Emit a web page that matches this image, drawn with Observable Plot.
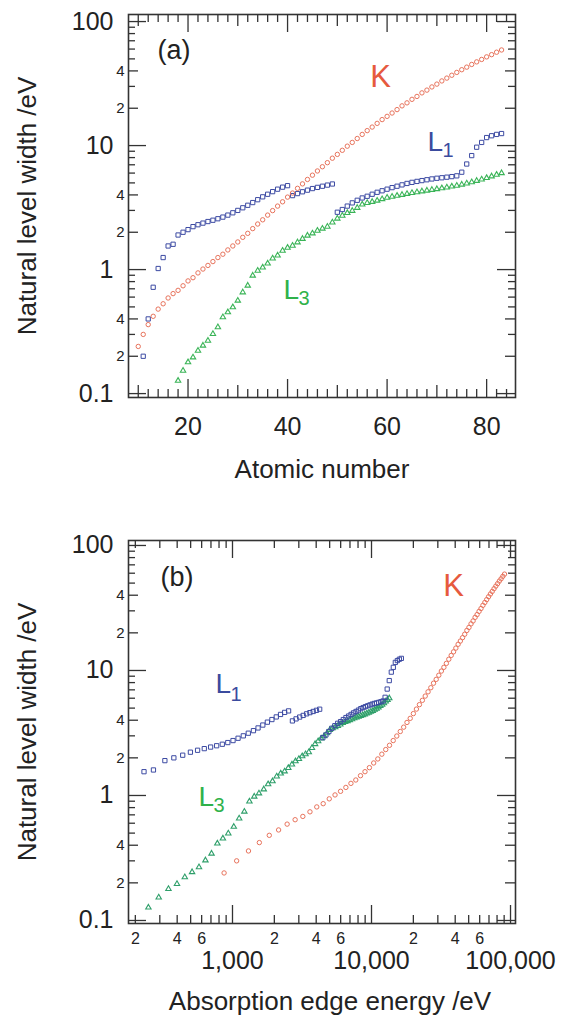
<!DOCTYPE html>
<html>
<head>
<meta charset="utf-8">
<script src="https://cdn.jsdelivr.net/npm/d3@7"></script>
<script src="https://cdn.jsdelivr.net/npm/@observablehq/plot@0.6"></script>
<style>
  html, body { margin: 0; padding: 0; background: #fff; }
  #chart svg { display: block; }
</style>
</head>
<body>
<div id="chart"></div>
<script>
// ---- K level: atomic number, natural width (eV), absorption edge energy (eV)
const zK = [10,11,12,13,14,15,16,17,18,19,20,21,22,23,24,25,26,27,28,29,30,31,32,33,34,35,36,37,38,39,40,41,42,43,44,45,46,47,48,49,50,51,52,53,54,55,56,57,58,59,60,61,62,63,64,65,66,67,68,69,70,71,72,73,74,75,76,77,78,79,80,81,82,83];
const widthK = [0.24,0.30,0.36,0.42,0.48,0.53,0.59,0.64,0.68,0.74,
  0.81,0.86,0.94,1.01,1.08,1.16,1.25,1.33,1.44,1.55,
  1.67,1.82,1.96,2.14,2.33,2.52,2.75,2.99,3.25,3.52,
  3.84,4.14,4.52,4.91,5.33,5.77,6.24,6.75,7.28,7.91,
  8.49,9.16,9.89,10.6,11.4,12.3,13.2,14.1,15.1,16.2,
  17.2,18.3,19.5,20.9,22.1,23.6,24.9,26.6,28.0,29.7,
  31.3,33.2,35.0,36.9,38.9,40.9,42.9,45.1,47.3,49.5,
  51.9,54.1,56.6,59.0];
const edgeK = [870,1071,1303,1560,1839,2146,2472,2822,3206,3608,
  4038,4492,4966,5465,5989,6539,7112,7709,8333,8979,
  9659,10367,11103,11867,12658,13474,14326,15200,16105,17038,
  17998,18986,20000,21044,22117,23220,24350,25514,26711,27940,
  29200,30491,31814,33169,34561,35985,37441,38925,40443,41991,
  43569,45184,46834,48519,50239,51996,53789,55618,57486,59390,
  61332,63314,65351,67416,69525,71676,73871,76111,78395,80725,
  83102,85530,88005,90526];

// ---- L1 level
const zL1 = [11,12,13,14,15,16,17,18,19,20,21,22,23,24,25,26,27,28,29,30,31,32,33,34,35,36,37,38,39,40,41,42,43,44,45,46,47,48,49,50,51,52,53,54,55,56,57,58,59,60,61,62,63,64,65,66,67,68,69,70,71,72,73,74,75,76,77,78,79,80,81,82,83];
const widthL1 = [0.20,0.40,0.72,1.02,1.25,1.55,1.60,1.90,2.00,
  2.10,2.22,2.30,2.37,2.44,2.50,2.57,2.65,2.75,2.87,
  3.00,3.15,3.30,3.47,3.66,3.86,4.05,4.25,4.45,4.62,
  4.75,3.95,4.10,4.24,4.37,4.50,4.60,4.70,4.80,4.90,
  2.90,3.05,3.25,3.45,3.62,3.78,3.90,4.05,4.20,4.32,
  4.45,4.58,4.70,4.82,4.95,5.05,5.14,5.22,5.30,5.38,
  5.45,5.50,5.56,5.62,5.70,6.10,7.10,8.30,9.70,10.6,
  11.6,12.0,12.3,12.5];
const edgeL1 = [63.5,88.7,117.8,149.7,189,230.9,270,326.3,378.6,
  438.4,498,560.9,626.7,696,769.1,844.6,925.1,1008.6,1096.7,
  1196.2,1299,1414.6,1527,1652,1782,1921,2065,2216,2373,
  2532,2698,2866,3043,3224,3412,3604,3806,4018,4238,
  4465,4698,4939,5188,5453,5714,5989,6266,6549,6835,
  7126,7428,7737,8052,8376,8708,9046,9394,9751,10116,
  10486,10870,11271,11682,12100,12527,12968,13419,13880,14353,
  14839,15347,15861,16388];

// ---- L3 level
const zL3 = [18,19,20,21,22,23,24,25,26,27,28,29,30,31,32,33,34,35,36,37,38,39,40,41,42,43,44,45,46,47,48,49,50,51,52,53,54,55,56,57,58,59,60,61,62,63,64,65,66,67,68,69,70,71,72,73,74,75,76,77,78,79,80,81,82,83];
const widthL3 = [0.127,0.153,
  0.179,0.196,0.222,0.244,0.267,0.303,0.343,0.413,0.453,0.497,
  0.562,0.656,0.743,0.895,0.98,1.04,1.12,1.23,1.30,1.42,
  1.50,1.56,1.66,1.77,1.88,1.96,2.06,2.14,2.22,2.40,
  2.58,2.72,2.86,2.98,3.15,3.35,3.45,3.52,3.60,3.70,
  3.80,3.87,3.94,4.01,4.08,4.15,4.21,4.28,4.34,4.40,
  4.46,4.53,4.60,4.68,4.75,4.85,4.95,5.07,5.20,5.33,
  5.48,5.65,5.82,6.00];
const edgeL3 = [248.4,294.6,
  346.2,398.7,453.8,512.1,574.1,638.7,706.8,778.1,852.7,932.7,
  1021.8,1116.4,1217.0,1323.6,1433.9,1550,1678.4,1804,1940,2080,
  2222.3,2370.5,2520.2,2677,2837.9,3003.8,3173.3,3351.1,3537.5,3729.9,
  3928.8,4132.2,4341.4,4557.1,4782.2,5011.9,5247,5482.7,5723.4,5964.3,
  6207.9,6459,6716.2,6976.9,7242.8,7514,7790.1,8071.1,8357.9,8648,
  8943.6,9244.1,9560.7,9881.1,10206.8,10535.3,10870.9,11215.2,11563.7,11918.7,
  12283.9,12657.5,13035.2,13418.6];

// ---- axis ticks and labels
const yMajor = [0.1, 1, 10, 100];
const yMajorLabels = ["0.1", "1", "10", "100"];
const yMid = [0.2, 0.4, 2, 4, 20, 40];
const yMidLabels = ["2", "4", "2", "4", "2", "4"];
const yMinor = [0.3,0.5,0.6,0.7,0.8,0.9,3,5,6,7,8,9,30,50,60,70,80,90];

const zMajor = [20, 40, 60, 80];
const zMajorLabels = ["20", "40", "60", "80"];
const zMid = [10, 30, 50, 70];
const zMinor = [12,14,16,18,22,24,26,28,32,34,36,38,42,44,46,48,52,54,56,58,62,64,66,68,72,74,76,78,82,84];

const eMajor = [1000, 10000, 100000];
const eMajorLabels = ["1,000", "10,000", "100,000"];
const eLabelled = [200, 400, 600, 2000, 4000, 6000, 20000, 40000, 60000];
const eLabelledText = ["2", "4", "6", "2", "4", "6", "2", "4", "6"];
const eMinor = [200,300,400,500,600,700,800,900,2000,3000,4000,5000,6000,7000,8000,9000,20000,30000,40000,50000,60000,70000,80000,90000];

const yTitle = "Natural level width /eV";
const xTitleA = "Atomic number";
const xTitleB = "Absorption edge energy /eV";

// ---- styling
const FONT = "'Liberation Sans', Arial, Helvetica, sans-serif";
const INK = "#222";
const FRAME = "#333";
const colK = "#e8735c", colKText = "#e65a3e";
const colL1 = "#3d4ba3", colL1Text = "#3b4b9e";
const colL3a = "#3ab457", colL3b = "#2f9f6a", colL3Text = "#2fb24a";

const W = 561;
const M = {left: 128, right: 46};
const FW = W - M.left - M.right;

// rows
const rowsK = zK.map((z, i) => ({z, w: widthK[i], e: edgeK[i]}));
const rowsL1 = zL1.map((z, i) => ({z, w: widthL1[i], e: edgeL1[i]}));
const rowsL3 = zL3.map((z, i) => ({z, w: widthL3[i], e: edgeL3[i]}));
// the energy panel shows L1 from sulfur onward
const rowsL1energy = rowsL1.filter(d => d.z >= 16);

// inward ticks on the left and right edges of the frame
function yTicks() {
  const out = [];
  for (const [vals, len] of [[yMajor, 18], [yMid, 10], [yMinor, 7]]) {
    out.push(Plot.ruleY(vals, {y: d => d, insetRight: FW - len, stroke: FRAME, strokeWidth: 1.3}));
    out.push(Plot.ruleY(vals, {y: d => d, insetLeft: FW - len, stroke: FRAME, strokeWidth: 1.3}));
  }
  return out;
}
// inward ticks on the bottom and top edges of the frame
function xTicks(fh, groups) {
  const out = [];
  for (const [vals, len] of groups) {
    out.push(Plot.ruleX(vals, {x: d => d, insetTop: fh - len, stroke: FRAME, strokeWidth: 1.3}));
    out.push(Plot.ruleX(vals, {x: d => d, insetBottom: fh - len, stroke: FRAME, strokeWidth: 1.3}));
  }
  return out;
}
function yLabels() {
  return [
    Plot.text(yMajor, {y: d => d, text: (d, i) => yMajorLabels[i], frameAnchor: "left", textAnchor: "end",
      lineAnchor: "middle", dx: -15, fontSize: 25, fill: INK}),
    Plot.text(yMid, {y: d => d, text: (d, i) => yMidLabels[i], frameAnchor: "left", textAnchor: "end",
      lineAnchor: "middle", dx: -4, fontSize: 15, fill: INK}),
    Plot.text([yTitle], {text: d => d, frameAnchor: "left", rotate: -90, dx: -101, textAnchor: "middle",
      lineAnchor: "middle", fontSize: 26, fill: INK})
  ];
}
function labelMarks(list) {
  return list.map(l => Plot.text([l], {x: "x", y: "y", text: "text", fontSize: l.size, fill: l.color,
    textAnchor: l.anchor, lineAnchor: "middle"}));
}

// annotation placements (data coordinates of each panel)
const labelsA = [
  {x: 13.87, y: 58.4, text: "(a)", size: 27, color: INK, anchor: "start"},
  {x: 58.69, y: 35.7, text: "K", size: 31, color: colKText, anchor: "middle"},
  {x: 68.14, y: 10.59, text: "L", size: 28, color: colL1Text, anchor: "start"},
  {x: 71.15, y: 9.13, text: "1", size: 20, color: colL1Text, anchor: "start"},
  {x: 39.2, y: 0.679, text: "L", size: 28, color: colL3Text, anchor: "start"},
  {x: 42.21, y: 0.580, text: "3", size: 20, color: colL3Text, anchor: "start"}
];
const labelsB = [
  {x: 303.5, y: 55.9, text: "(b)", size: 27, color: INK, anchor: "start"},
  {x: 38890, y: 47.0, text: "K", size: 31, color: colKText, anchor: "middle"},
  {x: 755, y: 7.72, text: "L", size: 28, color: colL1Text, anchor: "start"},
  {x: 968, y: 6.37, text: "1", size: 20, color: colL1Text, anchor: "start"},
  {x: 569, y: 0.963, text: "L", size: 28, color: colL3Text, anchor: "start"},
  {x: 730, y: 0.831, text: "3", size: 20, color: colL3Text, anchor: "start"}
];

// ---- panel (a): width against atomic number
const hA = 510, mtA = 14, mbA = 113, fhA = hA - mtA - mbA;
const plotA = Plot.plot({
  width: W, height: hA,
  marginTop: mtA, marginBottom: mbA, marginLeft: M.left, marginRight: M.right,
  style: {fontFamily: FONT, background: "white"},
  x: {type: "linear", domain: [8.04, 85.8], axis: null},
  y: {type: "log", domain: [0.093, 114], axis: null},
  marks: [
    Plot.dot(rowsL3, {x: "z", y: "w", symbol: "triangle", r: 2, stroke: colL3a, strokeWidth: 1.1, fill: "none", clip: true}),
    Plot.dot(rowsL1, {x: "z", y: "w", symbol: "square", r: 2.4, stroke: colL1, strokeWidth: 1, fill: "none", clip: true}),
    Plot.dot(rowsK, {x: "z", y: "w", r: 2.2, stroke: colK, strokeWidth: 1, fill: "none", clip: true}),
    ...yTicks(),
    ...xTicks(fhA, [[zMajor, 18], [zMid, 12], [zMinor, 8]]),
    Plot.frame({stroke: FRAME, strokeWidth: 1.6}),
    ...yLabels(),
    Plot.text(zMajor, {x: d => d, text: (d, i) => zMajorLabels[i], frameAnchor: "bottom", dy: 29,
      lineAnchor: "middle", fontSize: 25, fill: INK}),
    Plot.text([xTitleA], {text: d => d, frameAnchor: "bottom", dy: 72, textAnchor: "middle",
      lineAnchor: "middle", fontSize: 26, fill: INK}),
    ...labelMarks(labelsA)
  ]
});

// ---- panel (b): width against absorption edge energy
const hB = 511, mtB = 30, mbB = 98, fhB = hB - mtB - mbB;
const plotB = Plot.plot({
  width: W, height: hB,
  marginTop: mtB, marginBottom: mbB, marginLeft: M.left, marginRight: M.right,
  style: {fontFamily: FONT, background: "white"},
  x: {type: "log", domain: [178.6, 108600], axis: null},
  y: {type: "log", domain: [0.0946, 109.6], axis: null},
  marks: [
    Plot.dot(rowsK, {x: "e", y: "w", r: 2.2, stroke: colK, strokeWidth: 1, fill: "none", clip: true}),
    Plot.dot(rowsL3, {x: "e", y: "w", symbol: "triangle", r: 2, stroke: colL3b, strokeWidth: 1.1, fill: "none", clip: true}),
    Plot.dot(rowsL1energy, {x: "e", y: "w", symbol: "square", r: 2.4, stroke: colL1, strokeWidth: 1, fill: "none", clip: true}),
    ...yTicks(),
    ...xTicks(fhB, [[eMajor, 18], [eMinor, 8]]),
    Plot.frame({stroke: FRAME, strokeWidth: 1.6}),
    ...yLabels(),
    Plot.text(eLabelled, {x: d => d, text: (d, i) => eLabelledText[i], frameAnchor: "bottom", dy: 15,
      lineAnchor: "middle", fontSize: 16, fill: INK}),
    Plot.text(eMajor, {x: d => d, text: (d, i) => eMajorLabels[i], frameAnchor: "bottom", dy: 37,
      lineAnchor: "middle", fontSize: 25, fill: INK}),
    Plot.text([xTitleB], {text: d => d, frameAnchor: "bottom", dy: 78, dx: 8, textAnchor: "middle",
      lineAnchor: "middle", fontSize: 26, fill: INK}),
    ...labelMarks(labelsB)
  ]
});

const chart = document.getElementById("chart");
chart.appendChild(plotA);
chart.appendChild(plotB);
</script>
</body>
</html>
